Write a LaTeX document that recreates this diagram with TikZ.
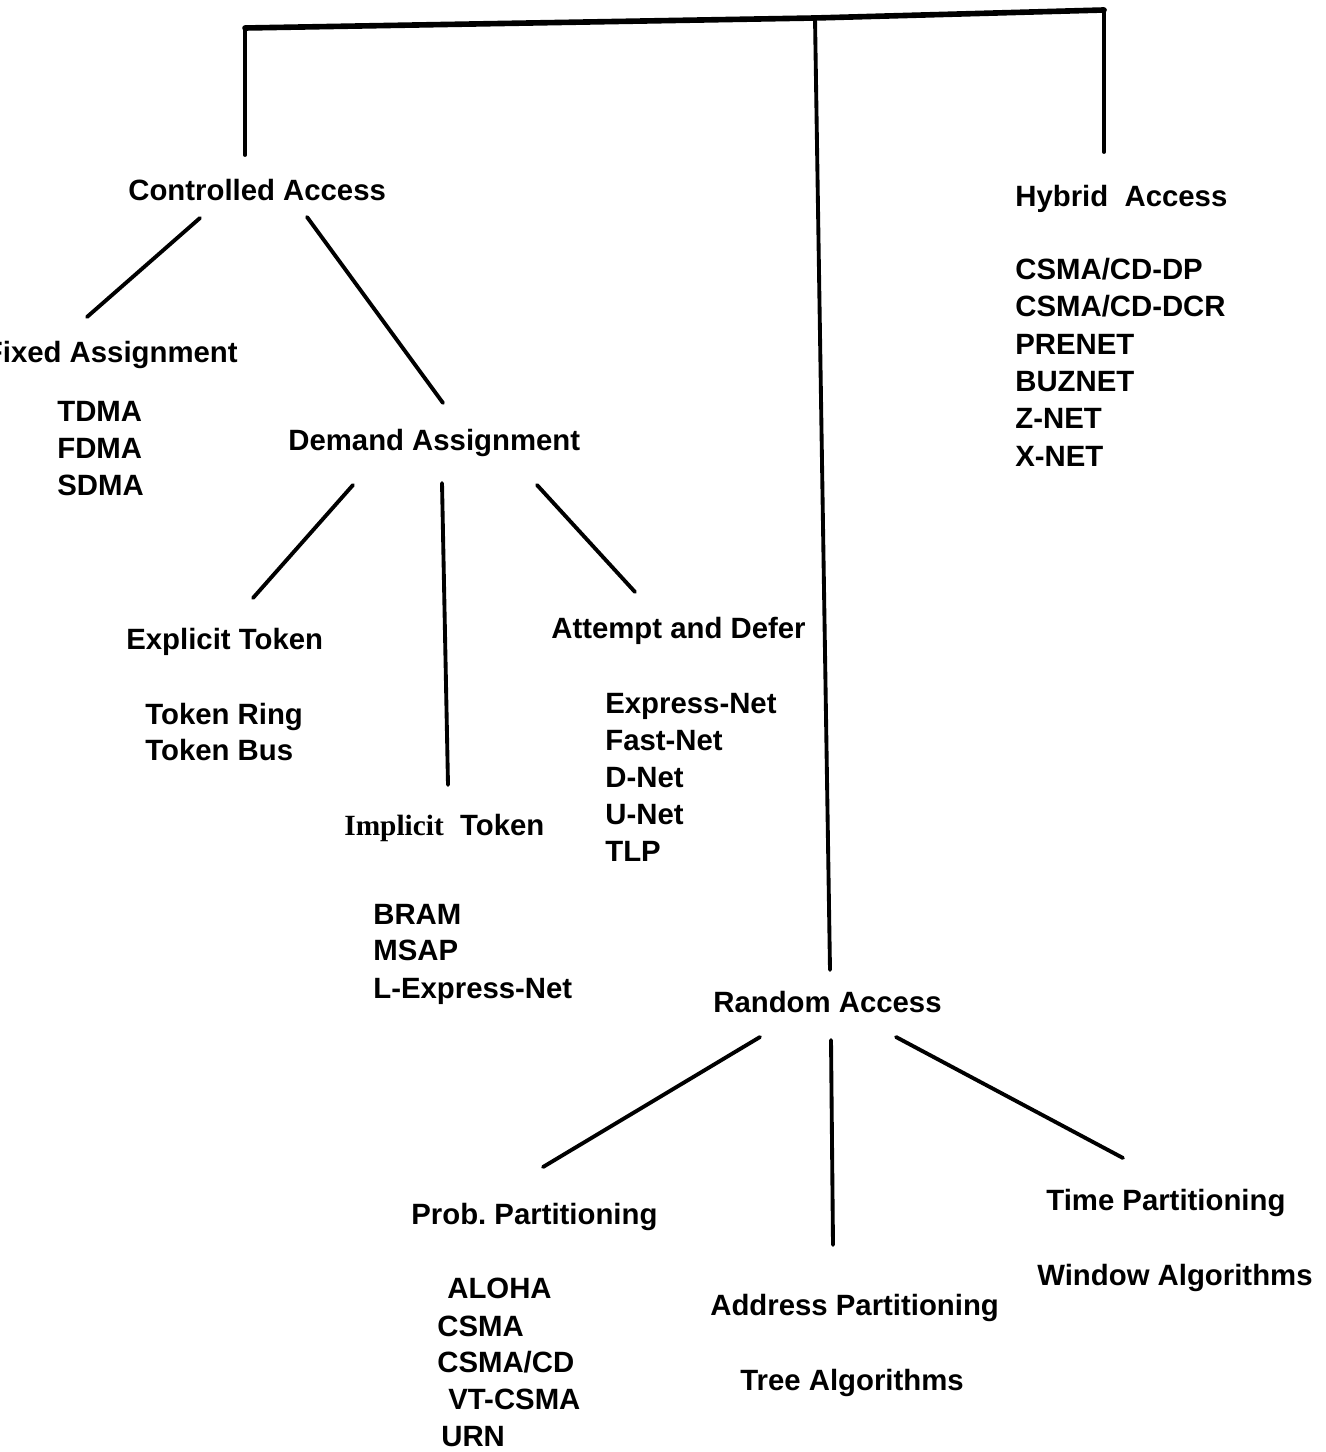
\documentclass[tikz,border=0pt]{standalone}
\usepackage{fontspec}
\setmainfont{Liberation Sans}
\newfontfamily\serifb{Liberation Serif}
\begin{document}
\begin{tikzpicture}[x=0.02cm,y=-0.02cm,
  lbl/.style={anchor=base west,inner sep=0pt,font=\fontsize{16.7}{20}\selectfont\bfseries},
  conn/.style={line width=2.2pt,line cap=round},
  bar/.style={line width=3.2pt,line cap=round}]
\useasboundingbox (0,0) rectangle (1325,1452);

% ---- labels ----
\node[lbl] (ca) at (128,201) {Controlled Access};
\node[lbl] (ha) at (1015,207) {Hybrid\ \ Access};
\node[lbl] (h1) at (1015,280) {CSMA/CD-DP};
\node[lbl] (h2) at (1015,317) {CSMA/CD-DCR};
\node[lbl] (h3) at (1015,355) {PRENET};
\node[lbl] (h4) at (1015,392) {BUZNET};
\node[lbl] (h5) at (1015,429) {Z-NET};
\node[lbl] (h6) at (1015,466) {X-NET};

\node[lbl,anchor=base east] (fa) at (238,363) {Fixed Assignment};
\node[lbl] (f1) at (57,422) {TDMA};
\node[lbl] (f2) at (57,459) {FDMA};
\node[lbl] (f3) at (57,496) {SDMA};

\node[lbl] (da) at (288,451) {Demand Assignment};

\node[lbl] (et) at (126,649) {Explicit Token};
\node[lbl] (e1) at (145,724) {Token Ring};
\node[lbl] (e2) at (145,760) {Token Bus};

\node[lbl] (it) at (344,835) {{\serifb Implicit}\ \ Token};
\node[lbl] (i1) at (373,924) {BRAM};
\node[lbl] (i2) at (373,960) {MSAP};
\node[lbl] (i3) at (373,998) {L-Express-Net};

\node[lbl] (ad) at (551,638) {Attempt and Defer};
\node[lbl] (a1) at (605,713) {Express-Net};
\node[lbl] (a2) at (605,750) {Fast-Net};
\node[lbl] (a3) at (605,787) {D-Net};
\node[lbl] (a4) at (605,824) {U-Net};
\node[lbl] (a5) at (605,861) {TLP};

\node[lbl] (ra) at (713,1012) {Random Access};

\node[lbl] (pp) at (411,1224) {Prob.\ Partitioning};
\node[lbl] (p1) at (447,1298) {ALOHA};
\node[lbl] (p2) at (437,1336) {CSMA};
\node[lbl] (p3) at (437,1372) {CSMA/CD};
\node[lbl] (p4) at (448,1409) {VT-CSMA};
\node[lbl] (p5) at (441,1446) {URN};

\node[lbl] (ap) at (710,1315) {Address Partitioning};
\node[lbl] (ap1) at (740,1390) {Tree Algorithms};

\node[lbl] (tp) at (1046,1210) {Time Partitioning};
\node[lbl] (tp1) at (1037,1285) {Window Algorithms};

% ---- connector end points ----
\coordinate (barL) at (245,28);
\coordinate (barM) at (815,18);
\coordinate (barR) at (1104,10);
\coordinate (caIn) at (245,155);
\coordinate (raIn) at (830,970);
\coordinate (haIn) at (1104,152);

\coordinate (caL) at (200,218);
\coordinate (faIn) at (87,317);
\coordinate (caR) at (307,217);
\coordinate (daIn) at (443,403);

\coordinate (daL) at (353,485);
\coordinate (etIn) at (253,598);
\coordinate (daM) at (442,483);
\coordinate (itIn) at (448,785);
\coordinate (daR) at (537,485);
\coordinate (adIn) at (635,592);

\coordinate (raL) at (760,1037);
\coordinate (ppIn) at (543,1167);
\coordinate (raM) at (831,1040);
\coordinate (apIn) at (833,1245);
\coordinate (raR) at (896,1037);
\coordinate (tpIn) at (1123,1158);

% ---- connectors ----
\draw[bar] (barL) -- (barM) -- (barR);
\draw[conn] (barL) -- (caIn);
\draw[conn] (barM) -- (raIn);
\draw[conn] (barR) -- (haIn);

\draw[conn] (caL) -- (faIn);
\draw[conn] (caR) -- (daIn);
\draw[conn] (daL) -- (etIn);
\draw[conn] (daM) -- (itIn);
\draw[conn] (daR) -- (adIn);
\draw[conn] (raL) -- (ppIn);
\draw[conn] (raM) -- (apIn);
\draw[conn] (raR) -- (tpIn);
\end{tikzpicture}
\end{document}
